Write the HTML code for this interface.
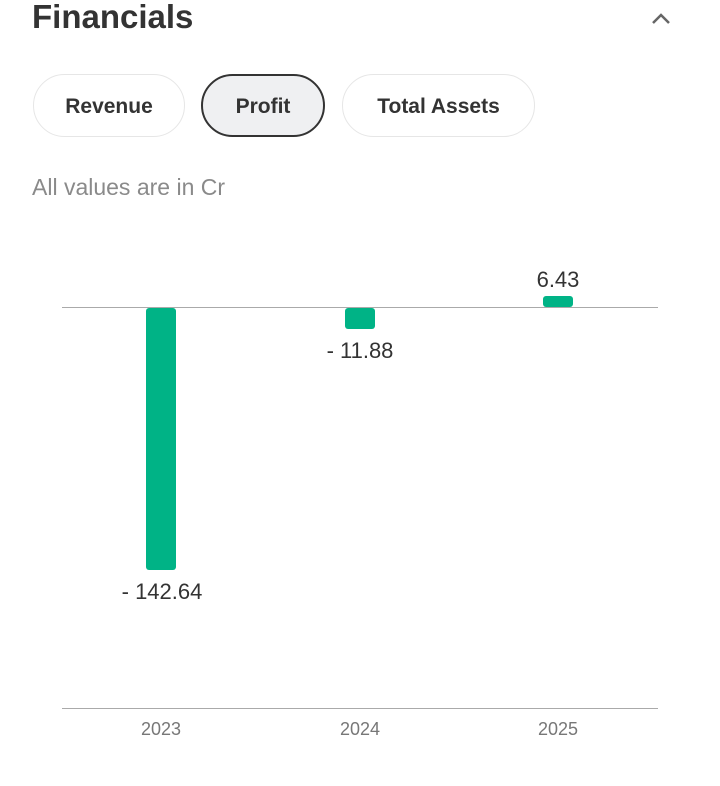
<!DOCTYPE html>
<html><head><meta charset="utf-8"><style>
body{margin:0;width:720px;height:786px;background:#fff;font-family:"Liberation Sans",sans-serif;position:relative;overflow:hidden}
.a{position:absolute}
.pill{position:absolute;top:74px;height:63px;padding-top:2px;border:1.5px solid #e6e6e6;border-radius:32px;box-sizing:border-box;font-size:21px;font-weight:bold;color:#333;display:flex;align-items:center;justify-content:center}
.bar{position:absolute;background:#00b386;border-radius:3px;width:30px}
.lbl{position:absolute;font-size:22px;color:#333;text-align:center;width:140px}
.yr{position:absolute;font-size:18px;color:#777;text-align:center;width:100px;top:719px}
</style></head><body>
<div class="a" style="left:32px;top:-2px;font-size:33px;font-weight:bold;color:#333">Financials</div>
<svg class="a" style="left:650px;top:10px" width="22" height="16"><polyline points="3,13 11,5 19,13" fill="none" stroke="#666" stroke-width="2.5"/></svg>
<div class="pill" style="left:33px;width:152px">Revenue</div>
<div class="pill" style="left:201px;width:124px;background:#eff0f2;border:2px solid #333">Profit</div>
<div class="pill" style="left:342px;width:193px">Total Assets</div>
<div class="a" style="left:32px;top:174px;font-size:23px;color:#8a8a8a">All values are in Cr</div>
<div class="a" style="left:62px;top:307px;width:596px;height:1px;background:#aaa"></div>
<div class="a" style="left:62px;top:708px;width:596px;height:1px;background:#aaa"></div>
<div class="bar" style="left:146px;top:308px;height:262px"></div>
<div class="bar" style="left:345px;top:308px;height:21px"></div>
<div class="bar" style="left:543px;top:296px;height:11px"></div>
<div class="lbl" style="left:92px;top:579px">- 142.64</div>
<div class="lbl" style="left:290px;top:338px">- 11.88</div>
<div class="lbl" style="left:488px;top:267px">6.43</div>
<div class="yr" style="left:111px">2023</div>
<div class="yr" style="left:310px">2024</div>
<div class="yr" style="left:508px">2025</div>
</body></html>
